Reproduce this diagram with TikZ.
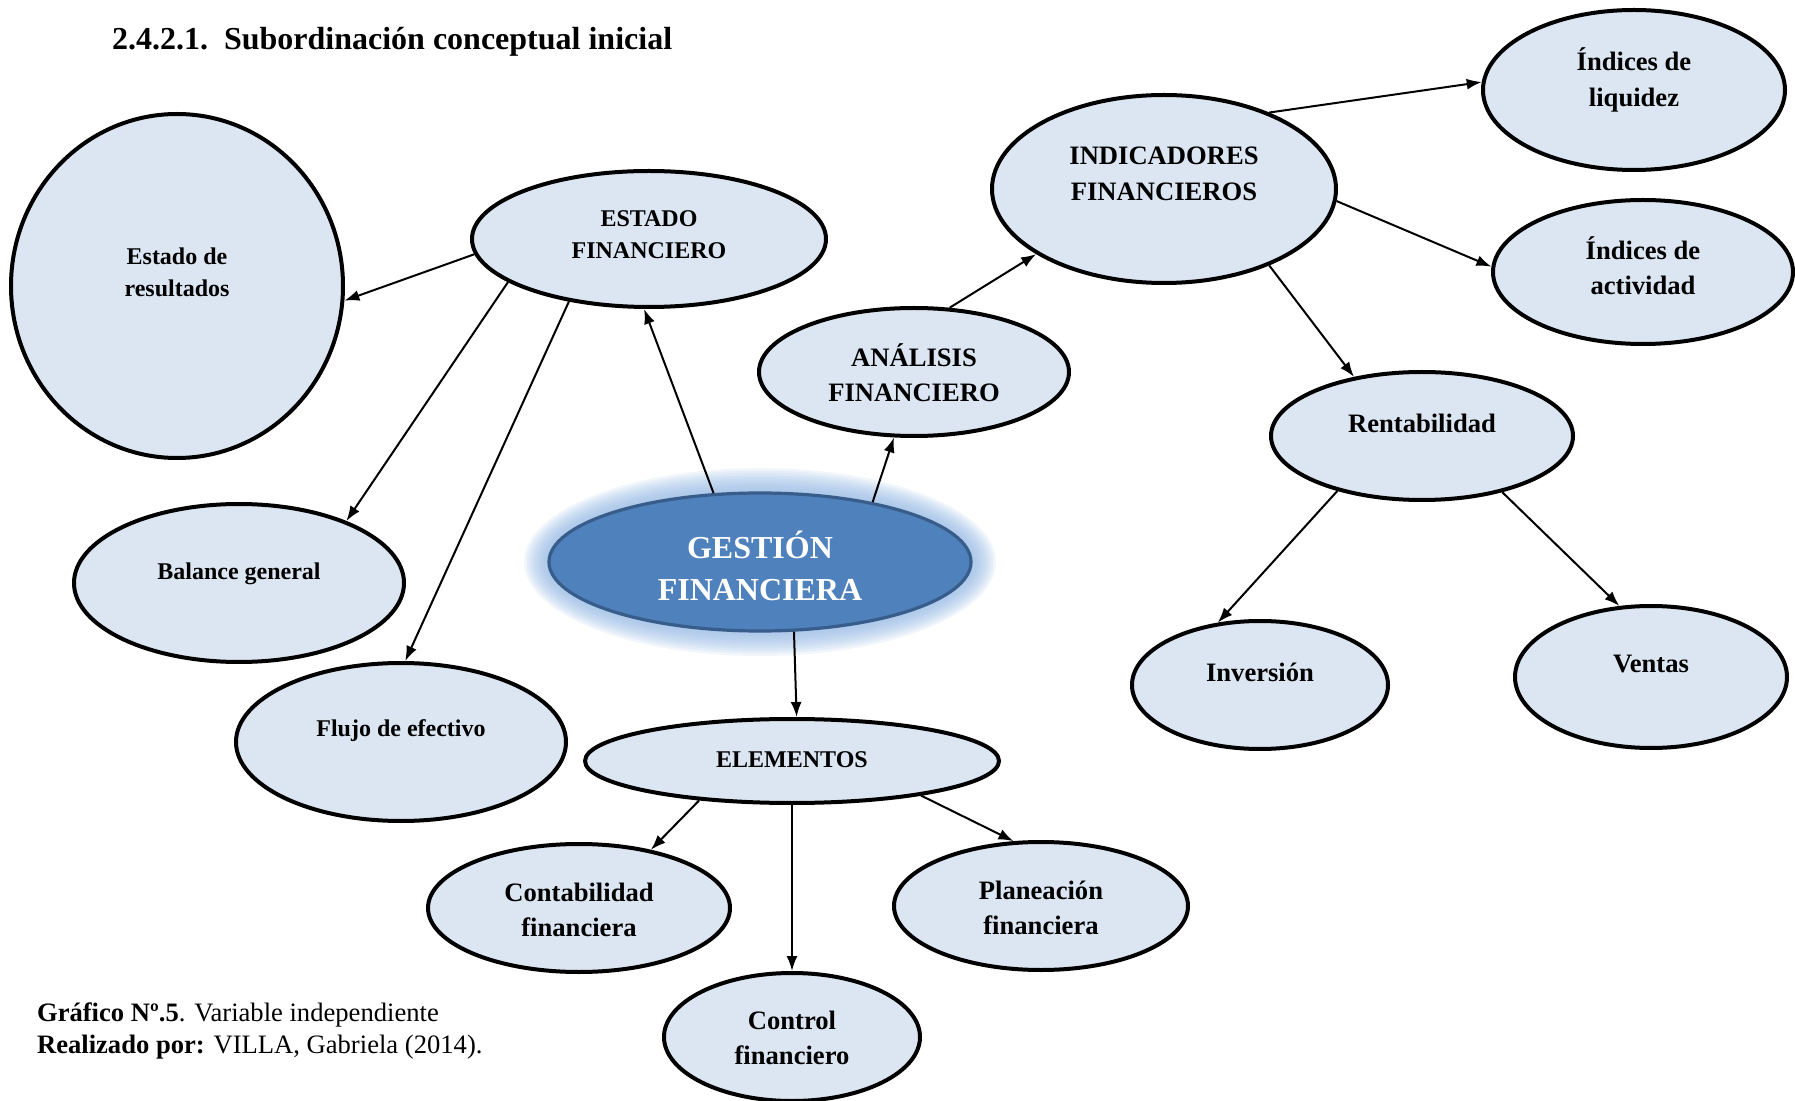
\documentclass[tikz,border=0pt]{standalone}
\usepackage{fontspec}
\setmainfont{Liberation Serif}
\usetikzlibrary{shapes.geometric,arrows.meta}

\definecolor{conceptfill}{HTML}{DCE6F2}
\definecolor{mainfill}{HTML}{4F81BD}
\definecolor{mainline}{HTML}{385D8A}
\definecolor{glowblue}{HTML}{8DB3E2}

\tikzset{
	concept/.style={ellipse, draw=black, line width=2pt, fill=conceptfill, inner sep=0pt},
	mainconcept/.style={ellipse, draw=mainline, line width=1.6pt, fill=mainfill, inner sep=0pt},
	wd/.style={minimum width=#1*0.5pt},
	ht/.style={minimum height=#1*0.5pt},
	lbl/.style={align=center, font=\bfseries\fontsize{12}{16}\selectfont},
	lblbig/.style={align=center, font=\bfseries\fontsize{13.3}{17.7}\selectfont},
	lblmain/.style={align=center, text=white, font=\bfseries\fontsize{16}{21}\selectfont},
	caption/.style={anchor=west, font=\fontsize{13.3}{16}\selectfont},
	conn/.style={line width=1pt, -{Latex[length=7.5pt,width=5.5pt]}},
}

\begin{document}
\begin{tikzpicture}[x=0.5pt, y=-0.5pt]
	\useasboundingbox (0,0) rectangle (1795,1101);

	\node[anchor=west, font=\bfseries\fontsize{16}{19}\selectfont] (titulo) at (105,42) {2.4.2.1.\ \ Subordinación conceptual inicial};

	% gestion financiera (glow behind)
	\foreach \g in {1,...,10}
		\fill[glowblue, opacity=0.12] (760,562) ellipse [x radius={(211+2.5*\g)*0.5pt}, y radius={(69+2.5*\g)*0.5pt}];
	\node[mainconcept, wd=422, ht=138] (gestion) at (760,562) {};
	\node[lblmain] (gestion-t) at (760,566) {GESTIÓN\\FINANCIERA};

	% estado financiero
	\node[concept, wd=354, ht=136] (estado) at (649,239) {};
	\node[lbl] (estado-t) at (649,235) {ESTADO\\FINANCIERO};
	\node[concept, wd=332, ht=344] (eres) at (177,286) {};
	\node[lbl] (eres-t) at (177,272) {Estado de\\resultados};
	\node[concept, wd=330, ht=158] (balance) at (239,583) {};
	\node[lbl] (balance-t) at (239,574) {Balance general};
	\node[concept, wd=330, ht=158] (flujo) at (401,742) {};
	\node[lbl] (flujo-t) at (401,731) {Flujo de efectivo};

	% analisis financiero
	\node[concept, wd=310, ht=128] (analisis) at (914,372) {};
	\node[lblbig] (analisis-t) at (914,373) {ANÁLISIS\\FINANCIERO};
	\node[concept, wd=344, ht=188] (indic) at (1164,189) {};
	\node[lblbig] (indic-t) at (1164,174) {INDICADORES\\FINANCIEROS};
	\node[concept, wd=302, ht=160] (liquidez) at (1634,90) {};
	\node[lblbig] (liquidez-t) at (1634,80) {Índices de\\liquidez};
	\node[concept, wd=300, ht=144] (actividad) at (1643,272) {};
	\node[lblbig] (actividad-t) at (1643,266) {Índices de\\actividad};
	\node[concept, wd=302, ht=128] (rentab) at (1422,436) {};
	\node[lblbig] (rentab-t) at (1422,423) {Rentabilidad};
	\node[concept, wd=256, ht=128] (inversion) at (1260,685) {};
	\node[lblbig] (inversion-t) at (1260,672) {Inversión};
	\node[concept, wd=272, ht=142] (ventas) at (1651,677) {};
	\node[lblbig] (ventas-t) at (1651,664) {Ventas};

	% elementos
	\node[concept, wd=414, ht=84] (elementos) at (792,761) {};
	\node[lbl] (elementos-t) at (792,760) {ELEMENTOS};
	\node[concept, wd=302, ht=128] (contab) at (579,908) {};
	\node[lblbig] (contab-t) at (579,910) {Contabilidad\\financiera};
	\node[concept, wd=256, ht=128] (control) at (792,1037) {};
	\node[lblbig] (control-t) at (792,1038) {Control\\financiero};
	\node[concept, wd=294, ht=128] (planeac) at (1041,906) {};
	\node[lblbig] (planeac-t) at (1041,908) {Planeación\\financiera};

	\draw[conn] (gestion.124) -- (estado.266);
	\draw[conn] (gestion.28) -- (analisis.253);
	\draw[conn] (gestion.296) -- (elementos.84);
	\draw[conn] (estado.185) -- (eres.355);
	\draw[conn] (estado.197) -- (balance.30);
	\draw[conn] (estado.218) -- (flujo.87);
	\draw[conn] (analisis.61) -- (indic.207);
	\draw[conn] (indic.36) -- (liquidez.177);
	\draw[conn] (indic.356) -- (actividad.178);
	\draw[conn] (indic.324) -- (rentab.139);
	\draw[conn] (rentab.213) -- (inversion.124);
	\draw[conn] (rentab.325) -- (ventas.114);
	\draw[conn] (elementos.203) -- (contab.39);
	\draw[conn] (elementos.south) -- (control.north);
	\draw[conn] (elementos.345) -- (planeac.113);

	\node[caption] (grafico) at (30,1015) {\textbf{Gráfico Nº.5}. Variable independiente};
	\node[caption] (realizado) at (30,1047) {\textbf{Realizado por:} VILLA, Gabriela (2014).};
\end{tikzpicture}
\end{document}
